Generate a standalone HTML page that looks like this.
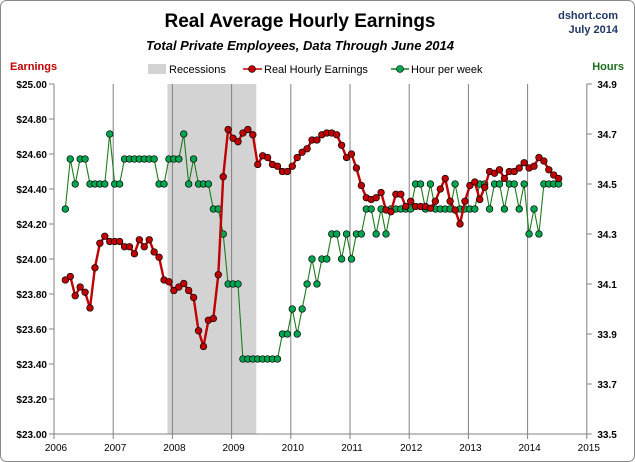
<!DOCTYPE html>
<html><head><meta charset="utf-8"><style>
body{margin:0;background:#fff;}
svg{display:block;font-family:"Liberation Sans",sans-serif;}
</style></head><body>
<svg id="chart" width="635" height="462" viewBox="0 0 635 462">
<rect x="0.5" y="0.5" width="634" height="461" rx="6" fill="#fff" stroke="#888"/>
<text x="300" y="27" text-anchor="middle" font-size="19" font-weight="bold" fill="#000">Real Average Hourly Earnings</text>
<text x="300" y="50" text-anchor="middle" font-size="13" font-weight="bold" font-style="italic" fill="#000">Total Private Employees, Data Through June 2014</text>
<text x="618" y="19" text-anchor="end" font-size="11" font-weight="bold" fill="#1f3864">dshort.com</text>
<text x="618" y="33" text-anchor="end" font-size="11" font-weight="bold" fill="#1f3864">July 2014</text>
<text x="10" y="70" font-size="11" font-weight="bold" fill="#c00000">Earnings</text>
<text x="624" y="70" text-anchor="end" font-size="11" font-weight="bold" fill="#1e6b1e">Hours</text>
<g>
<rect x="148" y="64" width="18" height="10" fill="#d3d3d3"/>
<text x="169" y="73" font-size="11" fill="#000">Recessions</text>
<line x1="243" y1="69" x2="262" y2="69" stroke="#c00000" stroke-width="1.5"/>
<circle cx="252" cy="69" r="3.5" fill="#c00000" stroke="#000" stroke-width="0.6"/>
<text x="264" y="73" font-size="11" fill="#000">Real Hourly Earnings</text>
<line x1="391" y1="69" x2="409" y2="69" stroke="#1e7b1e" stroke-width="1.5"/>
<circle cx="400" cy="69" r="3.5" fill="#00a550" stroke="#000" stroke-width="0.6"/>
<text x="411" y="73" font-size="11" fill="#000">Hour per week</text>
</g>
<g id="plot"></g>
</svg>
<script>
const years = ["2006","2007","2008","2009","2010","2011","2012","2013","2014","2015"];
const leftTicks = [25.0,24.8,24.6,24.4,24.2,24.0,23.8,23.6,23.4,23.2,23.0];
const rightTicks = [34.9,34.7,34.5,34.3,34.1,33.9,33.7,33.5];
const startMonth = 2; // March 2006, months since Jan 2006
const recessionStart = 23; // Dec 2007
const recessionEnd = 40.7; // mid-2009
const earnings = [23.88,23.90,23.79,23.84,23.81,23.72,23.95,24.09,24.13,24.10,24.10,24.10,24.07,24.07,24.03,24.11,24.07,24.11,24.04,24.01,23.88,23.87,23.82,23.84,23.86,23.82,23.78,23.59,23.50,23.65,23.66,23.91,24.47,24.74,24.69,24.67,24.72,24.74,24.71,24.54,24.59,24.58,24.54,24.53,24.50,24.50,24.53,24.58,24.61,24.63,24.68,24.68,24.71,24.72,24.72,24.71,24.65,24.58,24.60,24.52,24.42,24.35,24.34,24.35,24.38,24.28,24.27,24.37,24.37,24.30,24.33,24.30,24.30,24.30,24.29,24.33,24.40,24.46,24.33,24.28,24.20,24.33,24.42,24.44,24.34,24.41,24.50,24.49,24.51,24.46,24.50,24.50,24.52,24.55,24.52,24.53,24.58,24.56,24.51,24.48,24.46];
const hours = [34.4,34.6,34.5,34.6,34.6,34.5,34.5,34.5,34.5,34.7,34.5,34.5,34.6,34.6,34.6,34.6,34.6,34.6,34.6,34.5,34.5,34.6,34.6,34.6,34.7,34.5,34.6,34.5,34.5,34.5,34.4,34.4,34.3,34.1,34.1,34.1,33.8,33.8,33.8,33.8,33.8,33.8,33.8,33.8,33.9,33.9,34.0,33.9,34.0,34.1,34.2,34.1,34.2,34.2,34.3,34.3,34.2,34.3,34.2,34.3,34.3,34.4,34.4,34.3,34.4,34.3,34.4,34.4,34.4,34.4,34.4,34.5,34.5,34.4,34.5,34.4,34.4,34.4,34.4,34.5,34.4,34.4,34.4,34.4,34.5,34.5,34.4,34.5,34.5,34.4,34.5,34.5,34.4,34.5,34.3,34.4,34.3,34.5,34.5,34.5,34.5];

const X0=54, YR=59.2, TOP=84, BOT=434;
const xM = m => X0 + (m+0.3)*YR/12;
const xY = i => X0 + i*YR;
const yL = v => TOP + (25.0 - v)*(BOT-TOP)/2.0;
const yR = v => TOP + (34.9 - v)*(BOT-TOP)/1.4;
const NS="http://www.w3.org/2000/svg";
const plot=document.getElementById('plot');
function mk(tag,attrs,parent){const e=document.createElementNS(NS,tag);for(const k in attrs)e.setAttribute(k,attrs[k]);(parent||plot).appendChild(e);return e;}

const rec=mk('rect',{x:xM(recessionStart)-1.5,y:TOP,width:xM(recessionEnd)-xM(recessionStart)+1.5,height:BOT-TOP,fill:'#d3d3d3'});



years.forEach((yv,i)=>{
  const x=xY(i);
  if(i>0 && i<years.length-1){
    const g=mk('line',{x1:x,y1:TOP,x2:x,y2:BOT,stroke:'#808080','stroke-width':1});
    
    
  }
  mk('line',{x1:x,y1:BOT,x2:x,y2:BOT+5,stroke:'#808080'});
  const t=mk('text',{x:x+2,y:BOT+17,'text-anchor':'middle','font-size':10,fill:'#000'});
  t.textContent=yv;
  
  
});
mk('line',{x1:X0,y1:TOP,x2:X0,y2:BOT,stroke:'#808080'});
mk('line',{x1:xY(9),y1:TOP,x2:xY(9),y2:BOT,stroke:'#808080'});
mk('line',{x1:X0,y1:BOT,x2:xY(9),y2:BOT,stroke:'#808080'});
leftTicks.forEach(v=>{
  const y=yL(v);
  mk('line',{x1:X0-5,y1:y,x2:X0,y2:y,stroke:'#808080'});
  const t=mk('text',{x:X0-7,y:y+4,'text-anchor':'end','font-size':10,'font-weight':'bold',fill:'#000'});
  t.textContent='$'+v.toFixed(2);
  
  
});
rightTicks.forEach(v=>{
  const y=yR(v);
  mk('line',{x1:xY(9),y1:y,x2:xY(9)+5,y2:y,stroke:'#808080'});
  const t=mk('text',{x:xY(9)+30,y:y+4,'text-anchor':'end','font-size':10,'font-weight':'bold',fill:'#000'});
  t.textContent=v.toFixed(1);
  
  
});

function series(vals,yf,lineColor,lw,dotColor,name){
  const pts=vals.map((v,i)=>xM(startMonth+i).toFixed(1)+','+yf(v).toFixed(1)).join(' ');
  const pl=mk('polyline',{points:pts,fill:'none',stroke:lineColor,'stroke-width':lw,'stroke-linejoin':'round'});
  
  
  vals.forEach((v,i)=>{
    const c=mk('circle',{cx:xM(startMonth+i),cy:yf(v),r:3.3,fill:dotColor,stroke:'#000','stroke-width':0.7});
    
    
  });
}
series(hours,yR,'#1e7b1e',1.1,'#00a550','hours');
series(earnings,yL,'#c00000',2.4,'#c00000','earnings');
</script>
</body></html>
